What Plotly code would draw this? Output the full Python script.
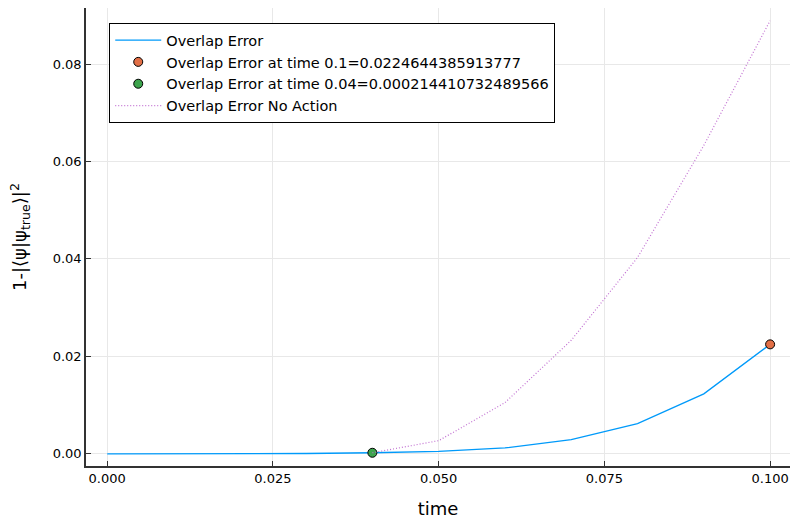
import plotly.graph_objects as go

time = [0.0, 0.01, 0.02, 0.03, 0.04, 0.05, 0.06, 0.07, 0.08, 0.09, 0.1]
overlap_error = [0.0, 1e-6, 1.5e-5, 7e-5, 0.000214410732489, 0.0005, 0.0012, 0.0029, 0.0062, 0.0123, 0.0224644385913777]
time_no_action = [0.04, 0.05, 0.06, 0.07, 0.08, 0.09, 0.1]
overlap_no_action = [0.000214410732489, 0.0027, 0.0105, 0.0233, 0.0403, 0.0633, 0.0889]
pt1_t, pt1_v = 0.1, 0.0224644385913777
pt2_t, pt2_v = 0.04, 0.000214410732489566

font = "DejaVu Sans"
fig = go.Figure()
fig.add_trace(go.Scatter(x=time, y=overlap_error, mode="lines", name="Overlap Error",
                         line=dict(color="#009AFA", width=1.3)))
fig.add_trace(go.Scatter(x=[pt1_t], y=[pt1_v], mode="markers",
                         name="Overlap Error at time 0.1=0.0224644385913777",
                         marker=dict(color="#E26F46", size=9, line=dict(color="black", width=1))))
fig.add_trace(go.Scatter(x=[pt2_t], y=[pt2_v], mode="markers",
                         name="Overlap Error at time 0.04=0.000214410732489566",
                         marker=dict(color="#3DA44D", size=9, line=dict(color="black", width=1))))
fig.add_trace(go.Scatter(x=time_no_action, y=overlap_no_action, mode="lines",
                         name="Overlap Error No Action",
                         line=dict(color="#C271D2", width=1.2, dash="1px,2px")))

axis_common = dict(showline=True, linecolor="#333333", linewidth=1.5, mirror=False,
                   showgrid=True, gridcolor="#E8E8E8", gridwidth=1, zeroline=False,
                   ticks="inside", ticklen=5, tickcolor="#333333",
                   tickfont=dict(family=font, size=13, color="black"))
fig.update_xaxes(range=[-0.0032, 0.1030], tickvals=[0, 0.025, 0.05, 0.075, 0.1],
                 tickformat=".3f", title=dict(text="time", font=dict(family=font, size=18, color="black"), standoff=17),
                 **axis_common)
fig.update_yaxes(range=[-0.0025, 0.0915], tickvals=[0, 0.02, 0.04, 0.06, 0.08],
                 tickformat=".2f", title=dict(text="1-|⟨ψ|ψ<sub>true</sub>⟩|<sup>2</sup>", font=dict(family=font, size=18, color="black"), standoff=21),
                 **axis_common)
fig.update_layout(width=793, height=524, plot_bgcolor="white", paper_bgcolor="white",
                  margin=dict(l=86, r=3, t=8, b=58),
                  legend=dict(x=0.033, y=0.967, xanchor="left", yanchor="top",
                              bordercolor="black", borderwidth=1, bgcolor="white",
                              font=dict(family=font, size=14.5, color="black"),
                              tracegroupgap=0, itemwidth=46),
                  font=dict(family=font))
fig.write_html("out.html")
